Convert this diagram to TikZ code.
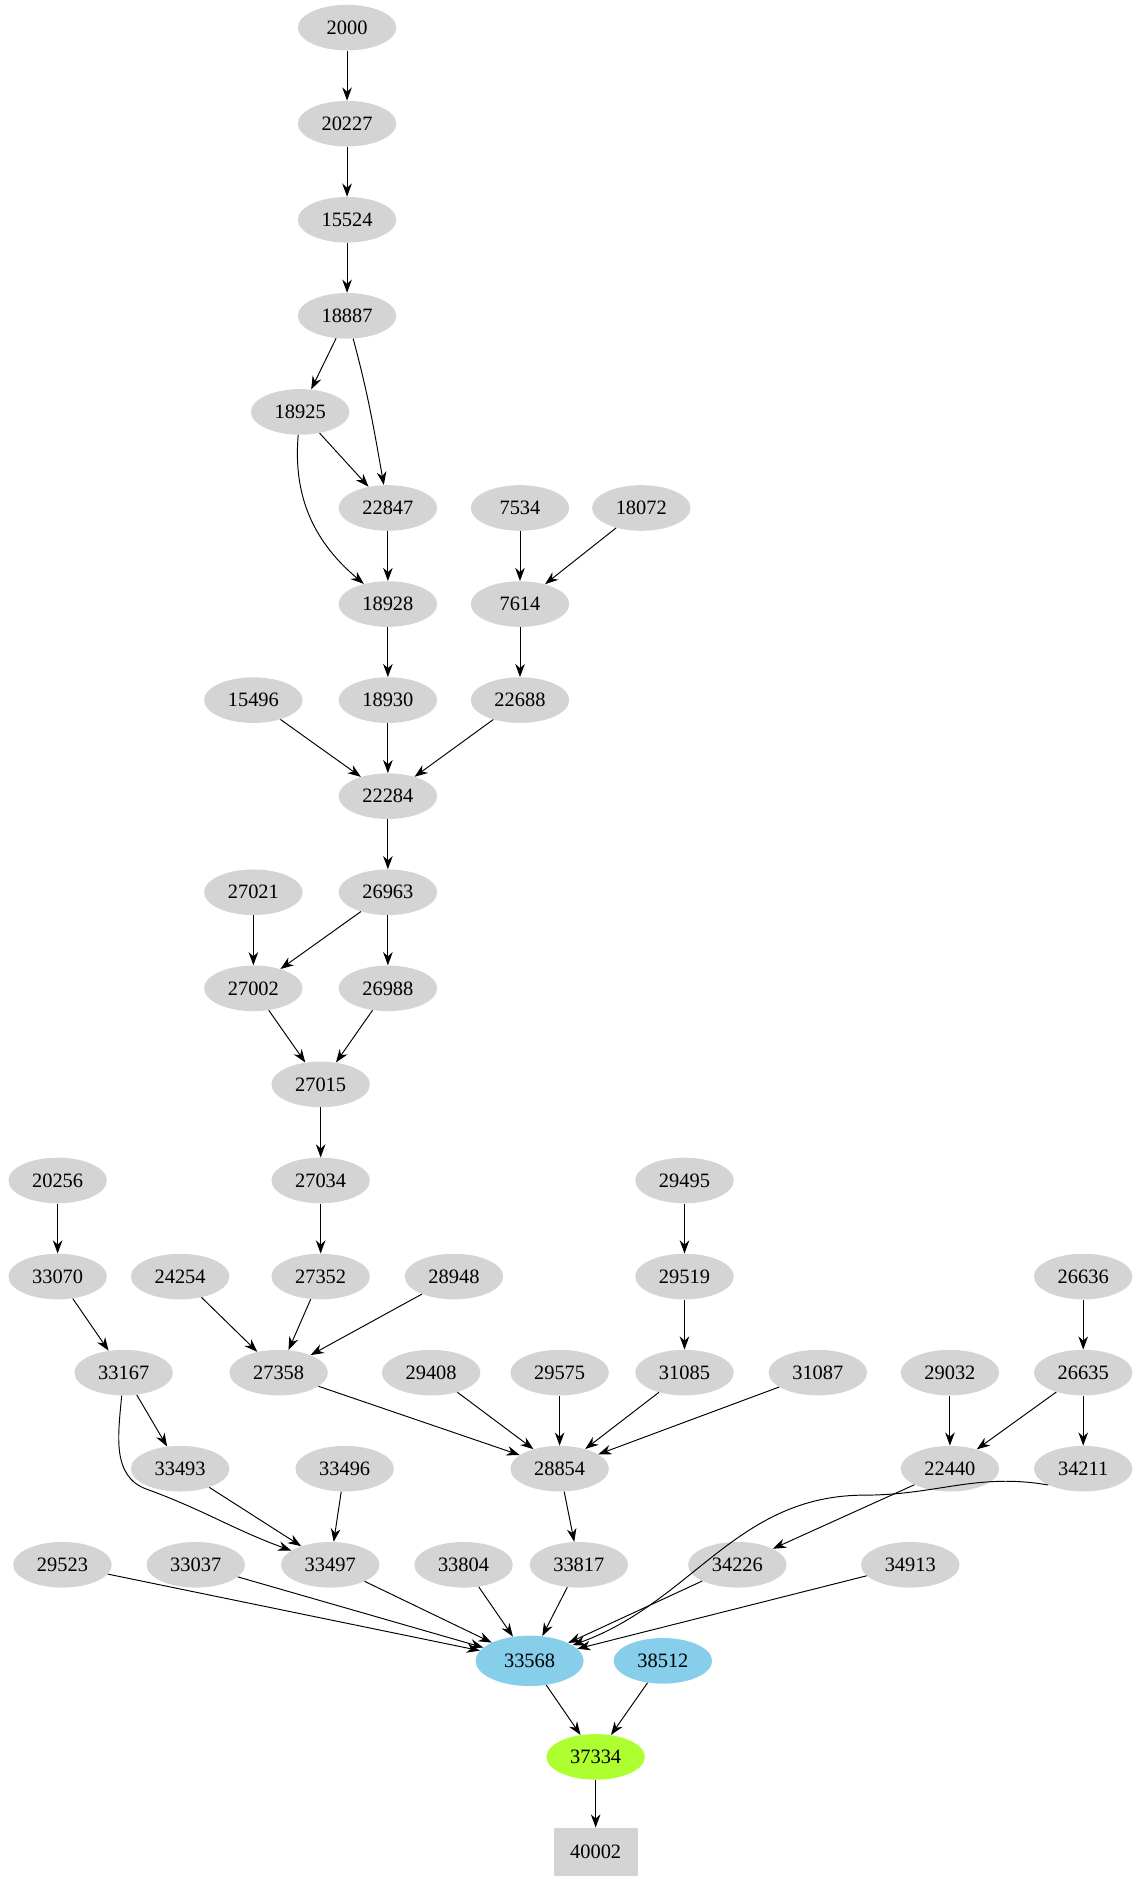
\documentclass[tikz,border=0pt]{standalone}
\usepackage{fontspec}
\setmainfont{Liberation Serif}
\usetikzlibrary{shapes.geometric,arrows.meta}
\begin{document}
\begin{tikzpicture}[x=1pt,y=-1pt,
 nd/.style={ellipse,fill=black!17,minimum width=82pt,minimum height=38pt,inner sep=0pt,font=\fontsize{17}{19}\selectfont},
 bl/.style={nd,fill=cyan!45!blue!35!white,fill={rgb,255:red,135;green,206;blue,235}},
 gr/.style={nd,fill={rgb,255:red,173;green,255;blue,47}},
 bx/.style={rectangle,fill=black!17,minimum width=70pt,minimum height=40pt,inner sep=0pt,font=\fontsize{17}{19}\selectfont},
 e/.style={-{Stealth[length=11pt,width=8pt]},line width=0.8pt}]
\useasboundingbox (0,0) rectangle (950,1568);
\foreach \n/\x/\y in {2000/289/23,20227/289/103,15524/289/183,18887/289/263,18925/250/343,22847/323/423,7534/433/423,18072/534/423,18928/323/503,7614/433/503,15496/211/583,18930/323/583,22688/433/583,22284/323/663,27021/211/743,26963/323/743,27002/211/823,26988/323/823,27015/267/903,20256/48/983,27034/267/983,29495/570/983,33070/48/1063,24254/150/1063,27352/267/1063,28948/378/1063,29519/570/1063,26636/902/1063,33167/103/1143,27358/232/1143,29408/359/1143,29575/466/1143,31085/570/1143,31087/681/1143,29032/791/1143,26635/902/1143,33493/150/1223,33496/287/1223,28854/466/1223,22440/791/1223,34211/902/1223,29523/52/1303,33037/163/1303,33497/275/1303,33804/386/1303,33817/482/1303,34226/614/1303,34913/758/1303}
  \node[nd] (n\n) at (\x,\y) {\n};
\node[bl,minimum width=90pt,minimum height=42pt] (n33568) at (441,1383) {33568};
\node[bl] (n38512) at (552,1383) {38512};
\node[gr] (n37334) at (496,1463) {37334};
\node[bx] (n40002) at (496,1542) {40002};
\foreach \a/\b in {2000/20227,20227/15524,15524/18887,18887/18925,18925/22847,22847/18928,7534/7614,18072/7614,18928/18930,7614/22688,15496/22284,18930/22284,22688/22284,22284/26963,27021/27002,26963/27002,26963/26988,27002/27015,26988/27015,27015/27034,27034/27352,20256/33070,33070/33167,24254/27358,27352/27358,28948/27358,29495/29519,29519/31085,26636/26635,33167/33493,27358/28854,29408/28854,29575/28854,31085/28854,31087/28854,29032/22440,26635/22440,26635/34211,33493/33497,33496/33497,28854/33817,22440/34226,29523/33568,33037/33568,33497/33568,33804/33568,33817/33568,34226/33568,34913/33568,33568/37334,38512/37334,37334/40002}
  \draw[e] (n\a) -- (n\b);
\draw[e] (n18887) to[out=-75,in=100] (n22847);
\draw[e] (n18925) to[out=-95,in=140] (n18928);
\draw[e] (n33167) to[out=-95,in=160] (122,1240) to[out=-20,in=160] (n33497);
\draw[e] (n34211.south west) to[out=170,in=0] (720,1245) to[out=180,in=20] (n33568);
\end{tikzpicture}
\end{document}
